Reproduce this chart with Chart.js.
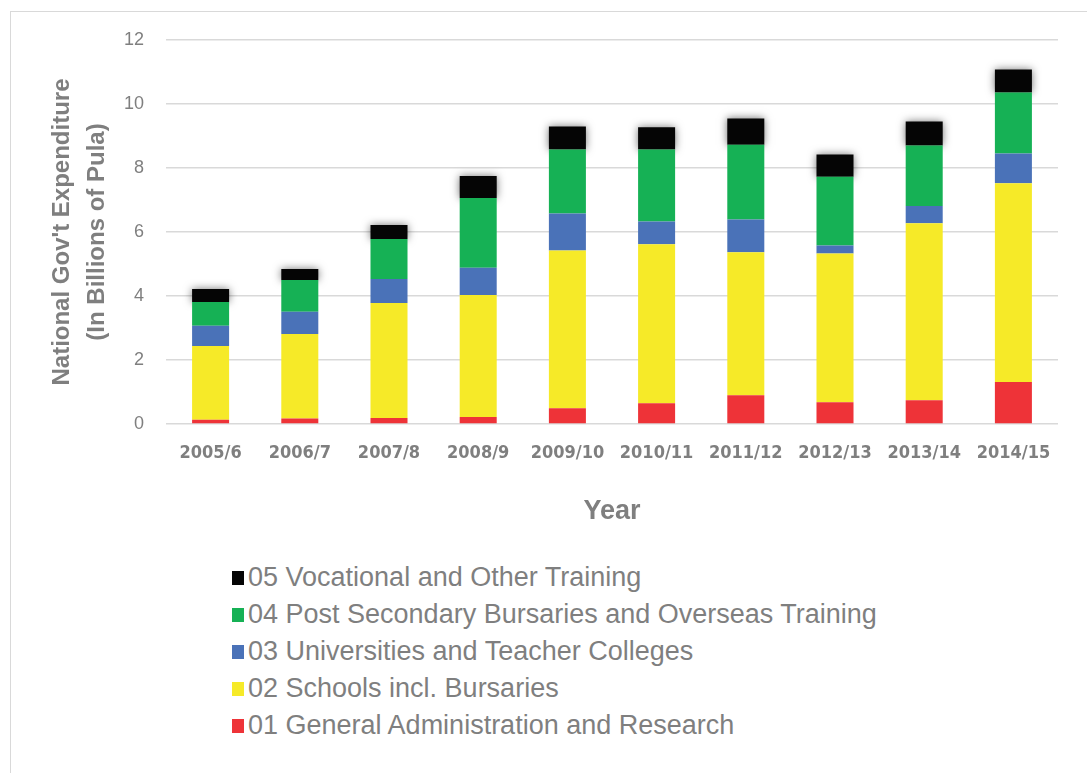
<!DOCTYPE html>
<html><head><meta charset="utf-8">
<script src="https://cdn.jsdelivr.net/npm/chart.js@4"></script>
<style>
html,body{margin:0;padding:0;background:#fff;width:1087px;height:773px;overflow:hidden;}
#frame{position:absolute;left:10px;top:11px;width:1100px;height:780px;border:1px solid #d9d9d9;box-sizing:border-box;}
#wrap{position:absolute;left:0;top:0;width:1087px;height:545px;}
#legend{position:absolute;left:232px;top:559px;font-family:'Liberation Sans',Arial,sans-serif;font-size:27px;color:#7f7f7f;}
.item{height:37px;display:flex;align-items:center;white-space:nowrap;}
.box{width:12px;height:14px;margin-right:4px;flex:none;}
</style></head>
<body>
<div id="frame"></div>
<div id="wrap"><canvas id="c" width="1087" height="545"></canvas></div>
<div id="legend"></div>
<script>
const categories = ['2005/6','2006/7','2007/8','2008/9','2009/10','2010/11','2011/12','2012/13','2013/14','2014/15'];
const generalAdmin  = [0.13,0.17,0.19,0.22,0.49,0.65,0.90,0.68,0.74,1.31];
const schools       = [2.31,2.64,3.59,3.81,4.93,4.97,4.47,4.65,5.53,6.21];
const universities  = [0.63,0.70,0.75,0.85,1.16,0.71,1.02,0.25,0.54,0.93];
const postSecondary = [0.74,0.99,1.25,2.18,2.00,2.25,2.34,2.15,1.89,1.91];
const vocational    = [0.41,0.34,0.44,0.69,0.72,0.69,0.82,0.69,0.75,0.72];
const seriesNames = ['01 General Administration and Research','02 Schools incl. Bursaries','03 Universities and Teacher Colleges','04 Post Secondary Bursaries and Overseas Training','05 Vocational and Other Training'];
const yTicks = [0,2,4,6,8,10,12];

const colors = ['#ee3338','#f6ea28','#4a72b8','#16b155','#050505'];
const gray = '#7f7f7f';

const glow = {
  id:'glow',
  beforeDatasetDraw(chart,args){ if(args.index===4){const c=chart.ctx;c.save();c.shadowColor='rgba(0,0,0,0.55)';c.shadowBlur=8;} },
  afterDatasetDraw(chart,args){ if(args.index===4) chart.ctx.restore(); }
};

const dataArrays = [generalAdmin, schools, universities, postSecondary, vocational];
const chart = new Chart(document.getElementById('c'), {
  type:'bar',
  data:{
    labels:categories,
    datasets: dataArrays.map((d,i)=>({label:seriesNames[i],data:d,backgroundColor:colors[i],borderWidth:0,categoryPercentage:1,barPercentage:0.415}))
  },
  plugins:[glow],
  options:{
    responsive:false,
    animation:false,
    layout:{padding:{top:40,right:29,left:0,bottom:0}},
    plugins:{legend:{display:false},tooltip:{enabled:false}},
    scales:{
      x:{
        stacked:true,
        grid:{display:false,drawTicks:false},
        border:{display:false},
        ticks:{color:gray,padding:19,font:{family:"'Liberation Sans Narrow','DejaVu Sans Condensed','Liberation Sans',sans-serif",size:18,weight:'bold'}},
        title:{display:true,text:'Year',color:gray,font:{family:"'Liberation Sans',Arial,sans-serif",size:27,weight:'bold'},padding:{top:0,bottom:17}},
        afterFit(s){ s.height = 121; }
      },
      y:{
        stacked:true,
        min:0,max:12,
        afterBuildTicks(s){ s.ticks = yTicks.map(v=>({value:v})); },
        grid:{color:'#d9d9d9',lineWidth:1.5,drawTicks:false},
        border:{display:false},
        ticks:{color:gray,padding:22,font:{family:"'Liberation Sans',Arial,sans-serif",size:18}},
        title:{display:true,text:["National Gov't Expenditure","(In Billions of Pula)"],color:gray,font:{family:"'Liberation Sans',Arial,sans-serif",size:24,weight:'bold',lineHeight:35/24},padding:{top:44.5,bottom:0}},
        afterFit(s){ s.width = 166; }
      }
    }
  }
});

const leg = document.getElementById('legend');
chart.data.datasets.slice().reverse().forEach(ds=>{
  const it=document.createElement('div'); it.className='item';
  const b=document.createElement('span'); b.className='box'; b.style.background=ds.backgroundColor;
  const t=document.createElement('span'); t.textContent=ds.label;
  it.appendChild(b); it.appendChild(t); leg.appendChild(it);
});
</script>
</body></html>
